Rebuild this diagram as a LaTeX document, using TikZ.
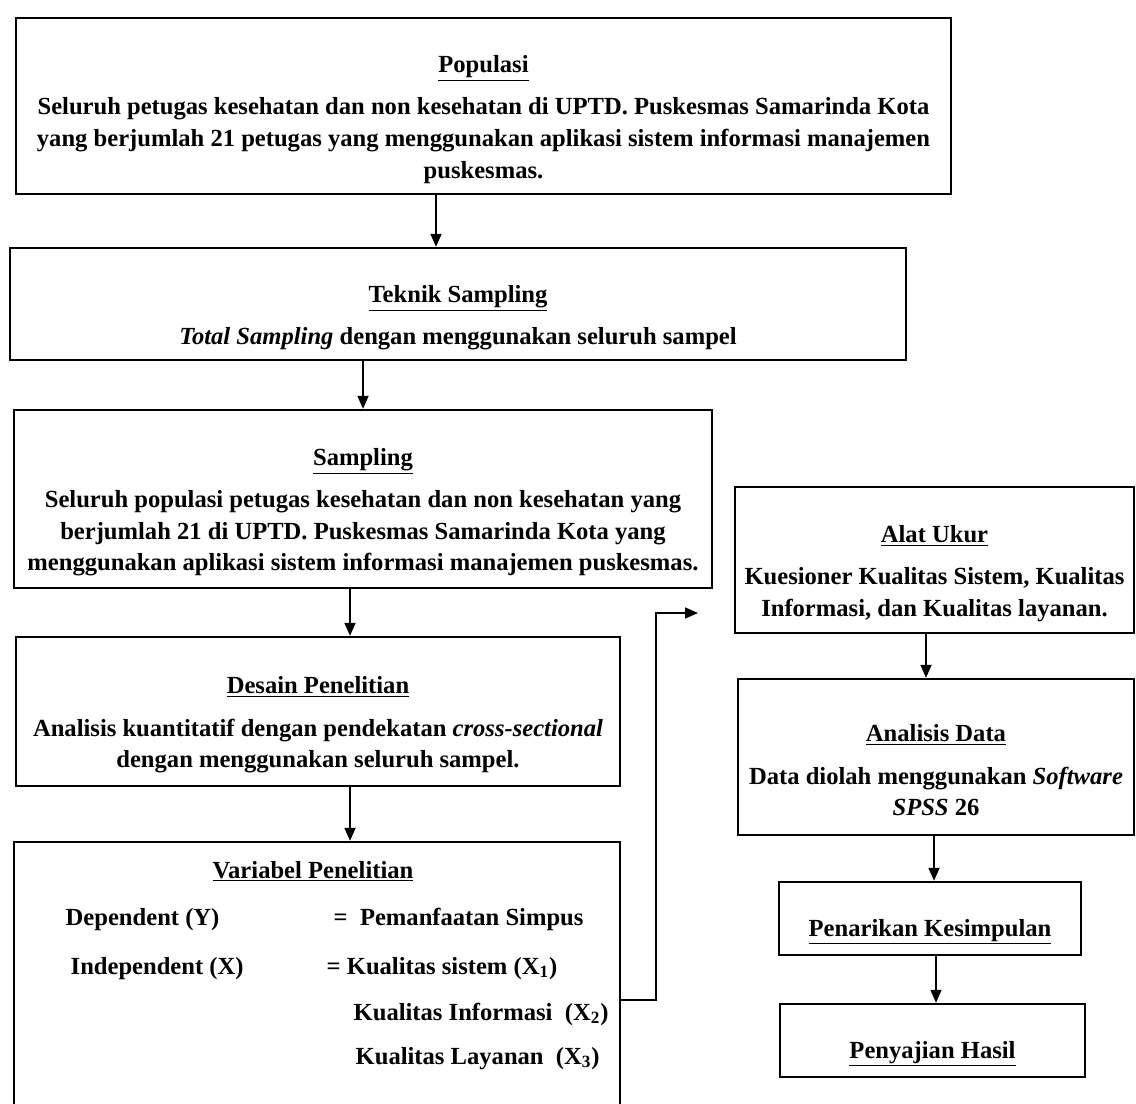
\documentclass[tikz,border=0pt]{standalone}
\usepackage{fontspec}
\setmainfont{Liberation Serif}
\usetikzlibrary{arrows.meta,calc}
\newcommand{\boxtitle}[1]{\rule{0pt}{25pt}\underline{#1}}
\begin{document}
\begin{tikzpicture}[x=0.02cm,y=-0.02cm,thick,
    >={Triangle[length=2.6mm,width=2.2mm]},
    flow/.style={draw,line width=1.4pt,align=center,inner sep=0pt,
      font=\fontsize{14}{18}\selectfont\bfseries},
    arr/.style={->,line width=1pt},
    row/.style={anchor=base west,inner sep=0pt,font=\fontsize{14}{18}\selectfont\bfseries}]
\useasboundingbox (0,0) rectangle (1136,1104);
\clip (0,0) rectangle (1136,1104);
% left column
\node[flow,minimum width=18.70cm,minimum height=3.52cm] (pop) at (483.5,106)
  {\boxtitle{Populasi}\\[6pt]
   Seluruh petugas kesehatan dan non kesehatan di UPTD. Puskesmas Samarinda Kota\\
   yang berjumlah 21 petugas yang menggunakan aplikasi sistem informasi manajemen\\
   puskesmas.};
\node[flow,minimum width=17.92cm,minimum height=2.24cm] (tek) at (458,304)
  {\boxtitle{Teknik Sampling}\\[6pt]
   \textit{Total Sampling} dengan menggunakan seluruh sampel};
\node[flow,minimum width=13.96cm,minimum height=3.56cm] (samp) at (363,499)
  {\boxtitle{Sampling}\\[6pt]
   Seluruh populasi petugas kesehatan dan non kesehatan yang\\
   berjumlah 21 di UPTD. Puskesmas Samarinda Kota yang\\
   menggunakan aplikasi sistem informasi manajemen puskesmas.};
\node[flow,minimum width=12.08cm,minimum height=2.98cm] (des) at (318,711.5)
  {\boxtitle{Desain Penelitian}\\[6pt]
   Analisis kuantitatif dengan pendekatan \textit{cross-sectional}\\
   dengan menggunakan seluruh sampel.};
\node[flow,minimum width=12.12cm,minimum height=6.40cm] (var) at (317,1002) {};
\node[row,anchor=base] (vart) at (313,878) {\underline{Variabel Penelitian}};
\node[row] (dep) at (65,925) {Dependent (Y)};
\node[row] (depv) at (333,925) {=\ \ Pemanfaatan Simpus};
\node[row] (ind) at (70,974) {Independent (X)};
\node[row] (indv) at (326,974) {= Kualitas sistem (X\textsubscript{1})};
\node[row] (indw) at (353,1020) {Kualitas Informasi\ \ (X\textsubscript{2})};
\node[row] (indx) at (355,1064) {Kualitas Layanan\ \ (X\textsubscript{3})};
% right column
\node[flow,minimum width=7.98cm,minimum height=2.92cm] (alat) at (934.5,560)
  {\boxtitle{Alat Ukur}\\[6pt]
   Kuesioner Kualitas Sistem, Kualitas\\
   Informasi, dan Kualitas layanan.};
\node[flow,minimum width=7.92cm,minimum height=3.12cm] (anal) at (936,757)
  {\boxtitle{Analisis Data}\\[6pt]
   Data diolah menggunakan \textit{Software}\\
   \textit{SPSS} 26};
\node[flow,minimum width=6.04cm,minimum height=1.46cm] (tarik) at (930,918.5)
  {\boxtitle{Penarikan Kesimpulan}};
\node[flow,minimum width=6.10cm,minimum height=1.46cm] (saji) at (932.5,1040.5)
  {\boxtitle{Penyajian Hasil}};
\coordinate (tip) at (698,613);
% arrows
\draw[arr] ([xshift=-0.95cm]pop.south) -- ([xshift=-0.95cm]pop.south |- tek.north);
\draw[arr] ([xshift=-1.90cm]tek.south) -- ([xshift=-1.90cm]tek.south |- samp.north);
\draw[arr] ([xshift=-0.26cm]samp.south) -- ([xshift=-0.26cm]samp.south |- des.north);
\draw[arr] ([xshift=0.64cm]des.south) -- ([xshift=0.64cm]des.south |- var.north);
\draw[arr] ([yshift=0.04cm]var.east) -- ++(0.7cm,0) |- (tip);
\draw[arr] ([xshift=-0.17cm]alat.south) -- ([xshift=-0.17cm]alat.south |- anal.north);
\draw[arr] ([xshift=-0.04cm]anal.south) -- ([xshift=-0.04cm]anal.south |- tarik.north);
\draw[arr] ([xshift=0.12cm]tarik.south) -- ([xshift=0.12cm]tarik.south |- saji.north);
\end{tikzpicture}
\end{document}
